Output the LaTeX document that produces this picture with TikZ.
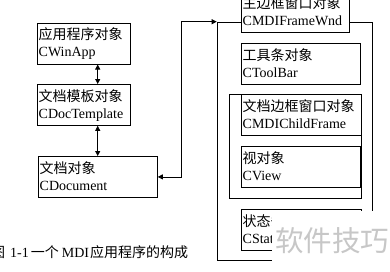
\documentclass[tikz,border=0pt]{standalone}
\usepackage{fontspec}
\setmainfont{Liberation Serif}
\newfontfamily\cjk{Noto Sans CJK SC}
\usetikzlibrary{arrows.meta}
\tikzset{
  objbox/.style={draw, line width=0.8pt, fill=white, anchor=north west, inner sep=0pt, minimum height=41pt},
  framebox/.style={draw, line width=0.8pt, anchor=north west, inner sep=0pt},
  cntext/.style={anchor=base west, inner sep=0pt, font=\cjk\fontsize{14}{14}\selectfont},
  entext/.style={anchor=base west, inner sep=0pt, font=\fontsize{14}{14}\selectfont},
  link/.style={line width=0.8pt, {Triangle[length=5pt,width=5pt]}-{Triangle[length=5pt,width=5pt]}},
  caption/.style={anchor=base west, inner sep=0pt, font=\fontsize{14}{14}\selectfont},
  wmark/.style={fill=white, inner sep=0pt, anchor=north west, minimum width=120pt, minimum height=62pt},
}
\newcommand\objbox[6]{%
  \node[objbox, minimum width=#4pt] (#1) at (#2,#3) {};
  \node[cntext] (#1-cn) at ([xshift=1.5pt,yshift=-17pt]#1.north west) {#5};
  \node[entext] (#1-en) at ([xshift=1.5pt,yshift=-34pt]#1.north west) {#6};
}
\begin{document}
\begin{tikzpicture}[x=1pt,y=-1pt]
\useasboundingbox (0,0) rectangle (390,271);
\clip (0,0) rectangle (390,271);
% frames
\node[framebox, minimum width=155.3pt, minimum height=238.3pt] (outer) at (216.7,21.7) {};
\node[framebox, minimum width=132pt, minimum height=103.4pt] (inner) at (229,94.3) {};
% left column
\objbox{app}{37}{22.7}{93}{应用程序对象}{CWinApp}
\objbox{tpl}{37}{84}{93}{文档模板对象}{CDocTemplate}
\objbox{doc}{38}{156}{119}{文档对象}{CDocument}
% right column
\objbox{main}{241}{-8.7}{108}{主边框窗口对象}{CMDIFrameWnd}
\objbox{tool}{241}{43}{119}{工具条对象}{CToolBar}
\objbox{child}{241}{94.3}{120}{文档边框窗口对象}{CMDIChildFrame}
\objbox{view}{241}{146}{119}{视对象}{CView}
\objbox{stat}{241}{209}{120}{状态条对象}{CStatusBar}
% connectors
\draw[link] (app.south -| 97.7,0) -- (tpl.north -| 97.7,0);
\draw[link] (tpl.south -| 97.7,0) -- (doc.north -| 97.7,0);
\draw[link] (doc.east) -- ++(24,0) |- (outer.north west);
% caption
\node[caption] (cap) at (-9,257) {{\cjk 图}\hspace{5pt}1-1\hspace{2pt}{\cjk 一个}\hspace{3pt}MDI\hspace{1pt}{\cjk 应用程序的构成}};
% watermark
\node[wmark] (wm) at (272,211) {};
\node[font=\cjk\fontsize{28.5}{28}\selectfont, text=black!22, anchor=center] (wmtext) at (332,241) {软件技巧};
\end{tikzpicture}
\end{document}
